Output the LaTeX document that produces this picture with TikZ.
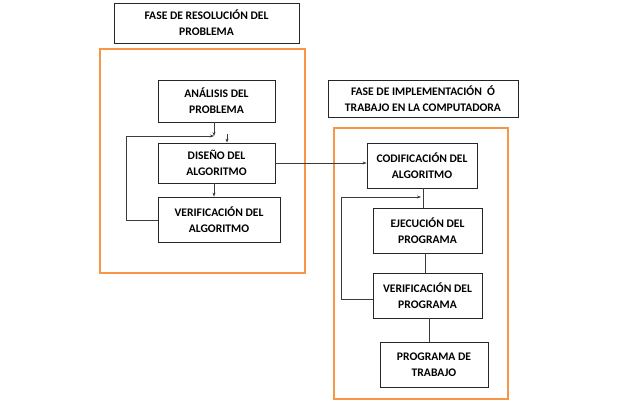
\documentclass[tikz,border=0pt]{standalone}
\usepackage{fontspec}
\setmainfont{Carlito}
\usetikzlibrary{arrows.meta}
\definecolor{marco}{RGB}{247,150,70}
\definecolor{linea}{RGB}{60,60,60}
\tikzset{
  caja/.style={draw=black!85, line width=0.8pt, align=center, inner sep=0pt,
    font=\fontsize{11.6}{16}\selectfont\bfseries},
  fase/.style={draw=marco, line width=2pt},
  flecha/.style={draw=linea, line width=0.6pt, -{Stealth[length=4pt,width=3pt]}},
  linea/.style={draw=linea, line width=0.6pt}
}
\begin{document}
\begin{tikzpicture}[x=1pt,y=-1pt]
            \useasboundingbox (0,0) rectangle (640,402);
            % Marcos de fase
            \draw[fase] (100,49) rectangle (305,273);
            \draw[fase] (334,128) rectangle (508,399);
            % Titulos
            \node[caja, minimum width=185pt, minimum height=40pt] (res) at (206.5,23) {FASE DE RESOLUCIÓN DEL\\PROBLEMA};
            \node[caja, minimum width=190pt, minimum height=37pt] (imp) at (423,98.5) {FASE DE IMPLEMENTACIÓN \ Ó\\TRABAJO EN LA COMPUTADORA};
            % Fase de resolucion
            \node[caja, minimum width=117pt, minimum height=42pt] (analisis) at (216.5,101) {ANÁLISIS DEL\\PROBLEMA};
            \node[caja, minimum width=117pt, minimum height=40pt] (diseno) at (216.5,163) {DISEÑO DEL\\ALGORITMO};
            \node[caja, minimum width=122pt, minimum height=45pt] (verifalg) at (219,219.5) {VERIFICACIÓN DEL\\ALGORITMO};
            % Fase de implementacion
            \node[caja, minimum width=110pt, minimum height=45pt] (codif) at (422,165.5) {CODIFICACIÓN DEL\\ALGORITMO};
            \node[caja, minimum width=109pt, minimum height=45pt] (ejec) at (427.5,230.5) {EJECUCIÓN DEL\\PROGRAMA};
            \node[caja, minimum width=109pt, minimum height=45pt] (verifprog) at (427.5,295.5) {VERIFICACIÓN DEL\\PROGRAMA};
            \node[caja, minimum width=108pt, minimum height=45pt] (trabajo) at (434,364.5) {PROGRAMA DE\\TRABAJO};
            % Puntos auxiliares
            \coordinate (j1) at (214,136);
            \coordinate (s1) at (227,134);
            \coordinate (r1) at (126,220);
            \coordinate (j2) at (421,197);
            \coordinate (r2) at (341,299);
            % Conectores
            \draw[flecha] (analisis.south -| j1) -- (j1);
            \draw[flecha] (verifalg.west |- r1) -- (r1) -- (r1 |- j1) -- (j1);
            \draw[flecha] (s1) -- (s1 |- diseno.north);
            \draw[flecha] (diseno.south -| j1) -- (verifalg.north -| j1);
            \draw[flecha] (diseno.east) -- (codif.west |- diseno.east);
            \draw[linea] (codif.south -| 423,0) -- (ejec.north -| 423,0);
            \draw[flecha] (verifprog.west |- r2) -- (r2) -- (r2 |- j2) -- (j2);
            \draw[linea] (ejec.south -| 425,0) -- (verifprog.north -| 425,0);
            \draw[linea] (verifprog.south -| 429,0) -- (trabajo.north -| 429,0);
        \end{tikzpicture}
\end{document}
